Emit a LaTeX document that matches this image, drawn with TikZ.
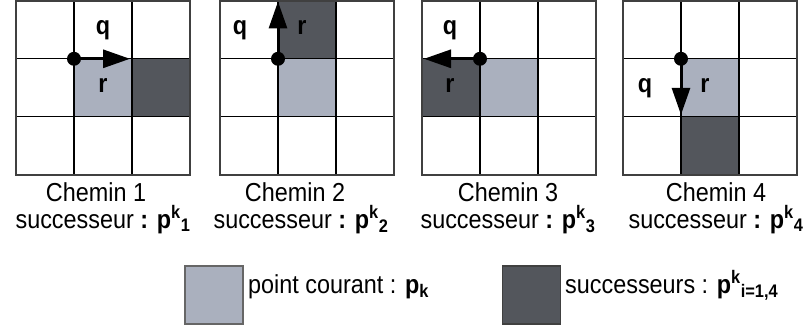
\documentclass[tikz,border=0pt]{standalone}
\usepackage{fontspec}
\setmainfont{Liberation Sans}[FakeStretch=0.9]
\usetikzlibrary{arrows.meta}
\definecolor{courant}{RGB}{170,176,190}
\definecolor{succ}{RGB}{83,86,92}
\tikzset{
  dot/.style={circle,fill=black,inner sep=0pt,minimum size=14pt},
  move/.style={line width=3pt,-{Triangle[length=27pt,width=18pt]}},
  lbl/.style={anchor=base,font=\fontsize{26}{30}\selectfont\bfseries},
  captxt/.style={anchor=base,font=\fontsize{26}{30}\selectfont},
  legtxt/.style={anchor=base west,inner sep=0pt,font=\fontsize{26}{30}\selectfont},
  legbox/.style={line width=1.5pt,minimum width=58pt,minimum height=58pt,inner sep=0pt}
}
\newcommand{\pksucc}[1]{\textbf{p}\textsuperscript{\textbf{k}}\textsubscript{\textbf{#1}}}
\begin{document}
\begin{tikzpicture}[x=1pt,y=1pt]
  \useasboundingbox (0,0) rectangle (807,-329);
  % cells
  \fill[courant] (74,-58.8) rectangle ++(58,-58);
  \fill[succ] (132,-58.8) rectangle ++(58,-58);
  \fill[courant] (278,-58.8) rectangle ++(58,-58);
  \fill[succ] (278,-0.8) rectangle ++(58,-58);
  \fill[courant] (480,-58.8) rectangle ++(58,-58);
  \fill[succ] (422,-58.8) rectangle ++(58,-58);
  \fill[courant] (681,-58.8) rectangle ++(58,-58);
  \fill[succ] (681,-116.8) rectangle ++(58,-58);
  % grids
  \foreach \x in {16,220,422,623} {
    \draw[line width=1.3pt,shift={(\x,-174.8)}] (0,0) grid[step=58pt] (174,174);
    \draw[line width=1.8pt,black!75] (\x,-0.8) rectangle ++(174,-174);
  }
  % Chemin 1
  \node[dot] (d1) at (74,-58.8) {};
  \coordinate (e1) at (130,-58.8);
  \draw[move] (d1.center) -- (e1);
  \node[lbl] (q1) at (103,-35) {q};
  \node[lbl] (r1) at (103,-93) {r};
  % Chemin 2
  \node[dot] (d2) at (278,-58.8) {};
  \coordinate (e2) at (278,-1.5);
  \draw[move] (d2.center) -- (e2);
  \node[lbl] (q2) at (240,-35) {q};
  \node[lbl] (r2) at (302,-35) {r};
  % Chemin 3
  \node[dot] (d3) at (480,-58.8) {};
  \coordinate (e3) at (424,-58.8);
  \draw[move] (d3.center) -- (e3);
  \node[lbl] (q3) at (450,-35) {q};
  \node[lbl] (r3) at (450,-93) {r};
  % Chemin 4
  \node[dot] (d4) at (681,-58.8) {};
  \coordinate (e4) at (681,-114.8);
  \draw[move] (d4.center) -- (e4);
  \node[lbl] (q4) at (645,-93) {q};
  \node[lbl] (r4) at (705,-93) {r};
  % captions
  \node[captxt] (c1) at (96,-201) {Chemin 1};
  \node[captxt] (s1) at (103,-228) {successeur \textbf{:} \pksucc{1}};
  \node[captxt] (c2) at (295,-201) {Chemin 2};
  \node[captxt] (s2) at (301,-228) {successeur \textbf{:} \pksucc{2}};
  \node[captxt] (c3) at (508,-201) {Chemin 3};
  \node[captxt] (s3) at (508,-228) {successeur \textbf{:} \pksucc{3}};
  \node[captxt] (c4) at (716,-201) {Chemin 4};
  \node[captxt] (s4) at (716,-228) {successeur \textbf{:} \pksucc{4}};
  % legend
  \node[legbox,fill=courant,draw=black!60] (bc) at (214,-295) {};
  \node[legtxt] (tc) at (248,-293) {point courant : \textbf{p}\textsubscript{\textbf{k}}};
  \node[legbox,fill=succ,draw=black!75] (bs) at (531.5,-295) {};
  \node[legtxt] (ts) at (565,-293) {successeurs : \pksucc{i=1,4}};
\end{tikzpicture}
\end{document}
